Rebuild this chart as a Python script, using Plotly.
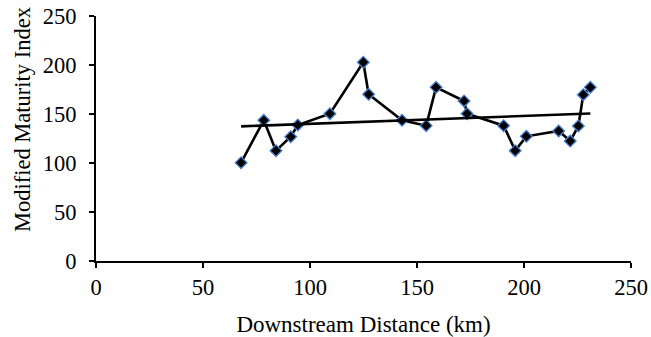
import numpy as np
import plotly.graph_objects as go

distance_km = [67.8, 78.4, 84.1, 91.0, 94.3, 109.3, 124.9, 127.4, 143.0, 154.3, 158.9,
               172.0, 173.4, 190.5, 195.9, 201.1, 216.2, 221.6, 225.4, 227.7, 231.0]
mmi = [100.3, 143.6, 112.6, 126.8, 138.8, 150.3, 202.8, 170.1, 143.6, 138.1, 177.2,
       163.3, 150.3, 138.1, 112.6, 127.2, 132.7, 122.4, 137.8, 169.7, 177.2]
x_ticks = [0, 50, 100, 150, 200, 250]
y_ticks = [0, 50, 100, 150, 200, 250]

slope, intercept = np.polyfit(distance_km, mmi, 1)
trend_x = [min(distance_km), max(distance_km)]
trend_y = [slope * v + intercept for v in trend_x]

FONT = "Liberation Serif, Times New Roman, serif"

fig = go.Figure()
fig.add_trace(go.Scatter(
    x=distance_km, y=mmi, mode="lines+markers",
    line=dict(color="black", width=2.6),
    marker=dict(symbol="diamond", size=9, color="black",
                line=dict(color="#4a7fd0", width=1.3)),
    showlegend=False,
))
fig.add_trace(go.Scatter(
    x=trend_x, y=trend_y, mode="lines",
    line=dict(color="black", width=2.6), showlegend=False,
))

axis_common = dict(
    showgrid=False, zeroline=False, showline=True, linecolor="black", linewidth=2,
    ticks="outside", ticklen=5, tickwidth=2, tickcolor="black",
    tickfont=dict(family=FONT, size=22.5, color="black"),
    mirror=False, automargin=False,
)
fig.update_layout(
    width=651, height=337,
    margin=dict(l=96, r=20, t=16, b=76),
    paper_bgcolor="white", plot_bgcolor="white",
    font=dict(family=FONT, size=22.5, color="black"),
    xaxis=dict(range=[0, 250], tickvals=x_ticks, **axis_common,
               title=dict(text="Downstream Distance (km)", font=dict(family=FONT, size=23),
                          standoff=20)),
    yaxis=dict(range=[0, 250], tickvals=y_ticks, **axis_common, ticklabelstandoff=8),
    annotations=[dict(
        text="Modified Maturity Index", textangle=-90,
        xref="paper", yref="paper", x=-0.1383, y=0.5755,
        xanchor="center", yanchor="middle", showarrow=False,
        font=dict(family=FONT, size=22.5, color="black"),
    )],
)
fig.write_html("out.html")
